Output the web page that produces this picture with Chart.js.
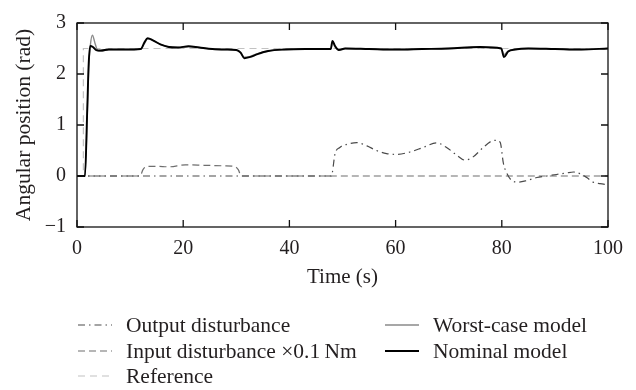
<!DOCTYPE html>
<html>
<head>
<meta charset="utf-8">
<script src="https://cdn.jsdelivr.net/npm/chart.js@4.4.0/dist/chart.umd.min.js"></script>
<style>
    html, body { margin: 0; padding: 0; background: #fff; }
    #wrap { width: 636px; height: 390px; }
</style>
</head>
<body>
<div id="wrap"><canvas id="chart" width="636" height="390"></canvas></div>
<script>
// Time samples and values
const refTime = [0, 1.2, 1.2, 100];
const refVal = [0, 0, 2.5, 2.5];

const inTime = [0, 11.9, 12.4, 13.2, 15, 17.3, 20.4, 24, 27.8, 29.6, 30.4, 30.9, 100];
const inVal = [0, 0, 0.12, 0.19, 0.19, 0.18, 0.22, 0.21, 0.2, 0.19, 0.12, 0, 0];

const outTime = [0, 47.9, 48.6, 49.5, 50.8, 52.7, 54.6, 56.4, 58.3, 60.2, 62.7, 65.2, 67.7, 69.6, 71.5, 73.1, 74.6, 76.5, 78.1, 79.0, 79.7, 80.3, 80.9, 81.9, 83.1, 84.7, 86.6, 88.5, 90.3, 92.2, 93.5, 94.7, 96.0, 97.2, 98.5, 100];
const outVal = [0, 0, 0.44, 0.56, 0.62, 0.655, 0.59, 0.5, 0.44, 0.425, 0.47, 0.56, 0.65, 0.56, 0.41, 0.31, 0.375, 0.56, 0.685, 0.698, 0.66, 0.25, 0.065, -0.09, -0.12, -0.09, -0.03, 0.0, 0.03, 0.06, 0.078, 0.047, -0.03, -0.12, -0.15, -0.17];

const worstTime = [0, 1.5, 1.9, 2.2, 2.5, 2.9, 3.4, 3.9, 4.6, 6, 9, 12, 12.7, 13.3, 14.3, 15.7, 17.3, 19, 21, 23, 25.5, 28, 30, 30.8, 31.5, 32.5, 34, 36, 39, 43, 47.8, 48.1, 48.6, 49.3, 50.5, 55, 60, 65, 70, 75.9, 79.9, 80.4, 81.2, 82.5, 85, 90, 95, 100];
const worstVal = [0, 0, 1.1, 2.1, 2.55, 2.76, 2.6, 2.46, 2.45, 2.48, 2.48, 2.49, 2.6, 2.69, 2.66, 2.58, 2.53, 2.52, 2.54, 2.52, 2.49, 2.48, 2.47, 2.43, 2.33, 2.34, 2.4, 2.45, 2.48, 2.49, 2.49, 2.62, 2.53, 2.47, 2.5, 2.49, 2.48, 2.49, 2.5, 2.53, 2.5, 2.38, 2.45, 2.48, 2.5, 2.49, 2.48, 2.5];

const nomTime = [0, 1.5, 1.9, 2.2, 2.5, 3.0, 3.6, 4.5, 6, 9, 12, 12.7, 13.3, 14.3, 15.7, 17.3, 19, 21, 23, 25.5, 28, 30, 30.8, 31.5, 32.5, 34, 36, 39, 43, 47.8, 48.1, 48.6, 49.3, 50.5, 55, 60, 65, 70, 75.9, 79.9, 80.4, 81.2, 82.5, 85, 90, 95, 100];
const nomVal = [0, 0, 1.2, 2.2, 2.55, 2.53, 2.47, 2.46, 2.48, 2.48, 2.49, 2.62, 2.70, 2.66, 2.58, 2.53, 2.52, 2.545, 2.52, 2.49, 2.48, 2.47, 2.42, 2.31, 2.33, 2.39, 2.45, 2.48, 2.49, 2.49, 2.65, 2.55, 2.47, 2.5, 2.49, 2.48, 2.49, 2.5, 2.53, 2.5, 2.33, 2.44, 2.48, 2.5, 2.49, 2.48, 2.5];

const xTicks = [0, 20, 40, 60, 80, 100];
const yTicks = [-1, 0, 1, 2, 3];

const textColor = '#231f20';
const serif = "'Liberation Serif', 'DejaVu Serif', serif";

// Pair time and value arrays into points
function toPoints(t, v) {
    return t.map((x, i) => ({ x: x, y: v[i] }));
}

// Frame box with inward tick marks on all four sides
const framePlugin = {
    id: 'frame',
    afterDatasetsDraw(chart) {
        const ctx = chart.ctx;
        const a = chart.chartArea;
        const xs = chart.scales.x;
        const ys = chart.scales.y;
        const len = 7;
        ctx.save();
        ctx.strokeStyle = '#111';
        ctx.lineWidth = 1.3;
        ctx.setLineDash([]);
        ctx.strokeRect(a.left, a.top, a.right - a.left, a.bottom - a.top);
        ctx.beginPath();
        xTicks.forEach(v => {
            const px = xs.getPixelForValue(v);
            ctx.moveTo(px, a.bottom); ctx.lineTo(px, a.bottom - len);
            ctx.moveTo(px, a.top); ctx.lineTo(px, a.top + len);
        });
        yTicks.forEach(v => {
            const py = ys.getPixelForValue(v);
            ctx.moveTo(a.left, py); ctx.lineTo(a.left + len, py);
            ctx.moveTo(a.right, py); ctx.lineTo(a.right - len, py);
        });
        ctx.stroke();
        ctx.restore();
    }
};

// Two-column legend under the plot
const legendPlugin = {
    id: 'sideLegend',
    afterDraw(chart) {
        const ctx = chart.ctx;
        const ds = chart.data.datasets;
        const items = [
            { d: ds[2], x: 78, y: 325 },
            { d: ds[1], x: 78, y: 351 },
            { d: ds[0], x: 78, y: 376 },
            { d: ds[3], x: 385, y: 325 },
            { d: ds[4], x: 385, y: 351 }
        ];
        ctx.save();
        ctx.font = '21.5px ' + serif;
        ctx.fillStyle = textColor;
        ctx.textBaseline = 'middle';
        items.forEach(it => {
            ctx.beginPath();
            ctx.strokeStyle = it.d.borderColor;
            ctx.lineWidth = it.d.borderWidth;
            ctx.setLineDash(it.d.borderDash || []);
            ctx.moveTo(it.x, it.y);
            ctx.lineTo(it.x + 34, it.y);
            ctx.stroke();
            ctx.fillText(it.d.label, it.x + 48, it.y + 1);
        });
        ctx.restore();
    }
};

const ctx = document.getElementById('chart').getContext('2d');
const myChart = new Chart(ctx, {
    type: 'line',
    data: {
        datasets: [
            {
                label: 'Reference',
                data: toPoints(refTime, refVal),
                borderColor: '#c2c2c2',
                borderWidth: 1.2,
                borderDash: [7, 5],
                tension: 0,
                order: 4
            },
            {
                label: 'Input disturbance \u00d70.1\u2009Nm',
                data: toPoints(inTime, inVal),
                borderColor: '#6e6e6e',
                borderWidth: 1.2,
                borderDash: [7, 4],
                cubicInterpolationMode: 'monotone',
                order: 3
            },
            {
                label: 'Output disturbance',
                data: toPoints(outTime, outVal),
                borderColor: '#4a4a4a',
                borderWidth: 1.2,
                borderDash: [7, 4, 1.5, 4],
                cubicInterpolationMode: 'monotone',
                order: 2
            },
            {
                label: 'Worst-case model',
                data: toPoints(worstTime, worstVal),
                borderColor: '#8a8a8a',
                borderWidth: 1.4,
                cubicInterpolationMode: 'monotone',
                order: 1
            },
            {
                label: 'Nominal model',
                data: toPoints(nomTime, nomVal),
                borderColor: '#000000',
                borderWidth: 1.9,
                cubicInterpolationMode: 'monotone',
                order: 0
            }
        ]
    },
    options: {
        responsive: false,
        animation: false,
        events: [],
        elements: { point: { radius: 0 } },
        layout: { padding: { left: 0, top: 12, right: 28, bottom: 100 } },
        plugins: {
            legend: { display: false },
            tooltip: { enabled: false }
        },
        scales: {
            x: {
                type: 'linear',
                min: 0,
                max: 100,
                afterFit: (s) => { s.height = 63; },
                afterBuildTicks: (s) => { s.ticks = xTicks.map(v => ({ value: v })); },
                grid: { display: false, drawTicks: false },
                border: { display: false },
                ticks: {
                    color: textColor,
                    font: { family: serif, size: 20 },
                    padding: 10,
                    maxRotation: 0
                },
                title: {
                    display: true,
                    text: 'Time (s)',
                    color: textColor,
                    font: { family: serif, size: 21 },
                    padding: { top: 0, bottom: 0 }
                }
            },
            y: {
                type: 'linear',
                min: -1,
                max: 3,
                afterFit: (s) => { s.width = 77; },
                afterBuildTicks: (s) => { s.ticks = yTicks.map(v => ({ value: v })); },
                grid: { display: false, drawTicks: false },
                border: { display: false },
                ticks: {
                    color: textColor,
                    font: { family: serif, size: 20 },
                    padding: 11,
                    callback: (v) => v < 0 ? '\u2212' + Math.abs(v) : String(v)
                },
                title: {
                    display: true,
                    text: 'Angular position (rad)',
                    color: textColor,
                    font: { family: serif, size: 21.5 },
                    padding: { top: 11, bottom: 0 }
                }
            }
        }
    },
    plugins: [framePlugin, legendPlugin]
});
</script>
</body>
</html>
